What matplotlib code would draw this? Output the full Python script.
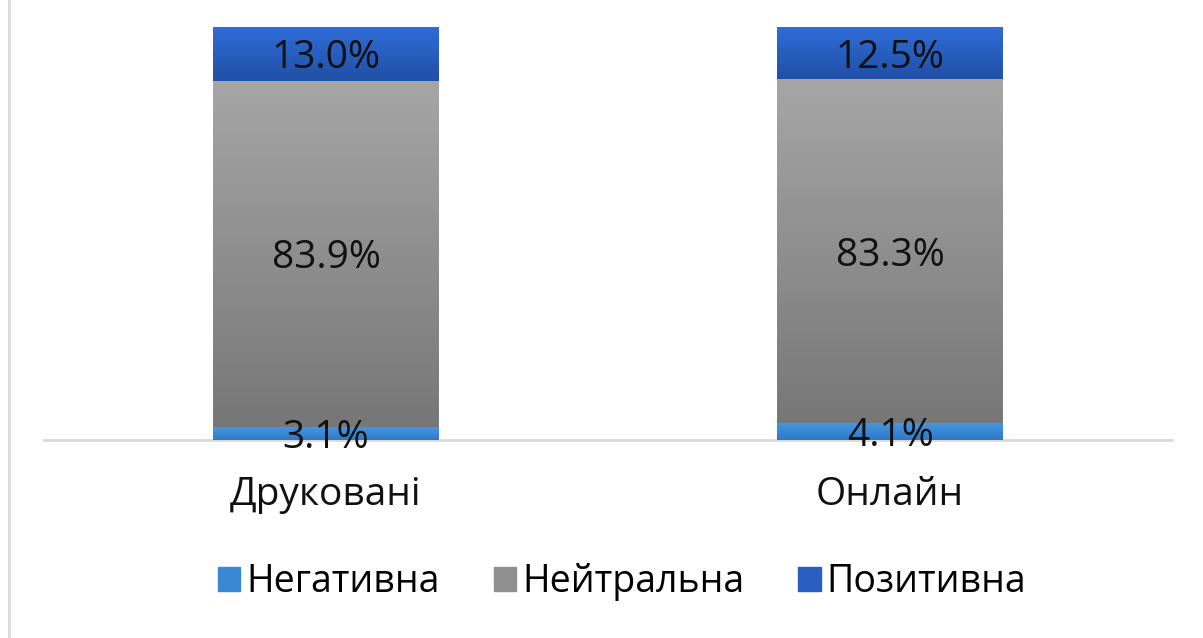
import matplotlib.pyplot as plt
import matplotlib.patches as mpatches
import numpy as np
from matplotlib.colors import LinearSegmentedColormap

categories = ["Друковані", "Онлайн"]
series = ["Негативна", "Нейтральна", "Позитивна"]
negative = [3.1, 4.1]
neutral = [83.9, 83.3]
positive = [13.0, 12.5]

# top colour, bottom colour for each segment gradient
grads = [("#4596e0", "#2d7ac6"), ("#a6a6a6", "#777777"), ("#2f6cd8", "#2150a6")]
legendColors = ["#3a88d4", "#8f8f8f", "#2a5ec0"]

plt.rcParams['font.family'] = ['Open Sans', 'DejaVu Sans']

fig = plt.figure(figsize=(12.03, 6.38), dpi=100)
ax = fig.add_axes([44 / 1203, 1 - 440 / 638, 1128 / 1203, 413 / 638])

x = np.arange(len(categories))
bottom = np.zeros(len(categories))
for vals, (c1, c2) in zip([negative, neutral, positive], grads):
    bars = ax.bar(x, vals, 0.4, bottom=bottom, color="none", edgecolor="none")
    cmap = LinearSegmentedColormap.from_list("g", [c2, c1])
    for bar, v in zip(bars, vals):
        x0, y0 = bar.get_x(), bar.get_y()
        w, h = bar.get_width(), bar.get_height()
        grad = np.linspace(0, 1, 100).reshape(-1, 1)
        im = ax.imshow(grad, extent=[x0, x0 + w, y0, y0 + h], origin="lower",
                       cmap=cmap, aspect="auto", zorder=2)
        im.set_clip_path(bar)
        ax.text(x0 + w / 2, y0 + h / 2, f"{v:.1f}%", ha="center", va="center_baseline",
                fontsize=28, color="#111111", zorder=4)
    bottom += np.array(vals)

ax.set_xlim(-0.5, 1.5)
ax.set_ylim(0, 100)
for s in ["top", "right", "left"]:
    ax.spines[s].set_visible(False)
ax.spines["bottom"].set_color("#d9d9d9")
ax.spines["bottom"].set_linewidth(2)
ax.spines["bottom"].set_zorder(1)
ax.set_yticks([])
ax.set_xticks(x)
ax.set_xticklabels(categories, fontsize=28, color="#111111")
ax.tick_params(axis="x", length=0, pad=26)

handles = [mpatches.Patch(color=c) for c in legendColors]
fig.legend(handles, series, loc="center", bbox_to_anchor=(622 / 1203, 1 - 582 / 638),
           ncol=3, frameon=False, fontsize=27, handlelength=0.6, handleheight=0.6,
           handletextpad=0.15, columnspacing=1.45)

fig.add_artist(plt.Line2D([9 / 1203, 9 / 1203], [0, 1], color="#d9d9d9", lw=2))

fig.savefig("out.png", dpi=100)
